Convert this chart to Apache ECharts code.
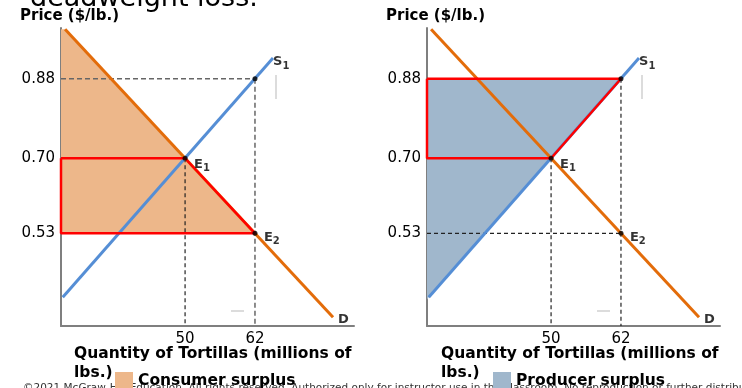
<!DOCTYPE html>
<html><head><meta charset="utf-8">
<script src="https://cdn.jsdelivr.net/npm/echarts@6/dist/echarts.min.js"></script>
<style>html,body{margin:0;padding:0;background:#fff}#c{width:742px;height:388px}</style>
</head><body><div id="c"></div>
<script>
// ---- data ----
const quantityTicks = [50, 62];
const priceTicks = [0.53, 0.70, 0.88];
const demandLine = [[29.4, 0.992], [75.4, 0.340]];
const supplyLine = [[29.0, 0.385], [65.1, 0.927]];
const pointE1 = [50, 0.70];
const pointE2 = [62, 0.53];
const pointS88 = [62, 0.88];
const qMin = 28.7, qMax = 79, pMin = 0.32, pMax = 0.995;
const consumerSurplus = [[qMin, 0.992], [29.4, 0.992], [62, 0.53], [qMin, 0.53]];
const producerSurplus = [[qMin, 0.88], [62, 0.88], [29.0, 0.385], [qMin, 0.38]];
const outlineLeft = [[qMin, 0.70], [50, 0.70], [62, 0.53], [qMin, 0.53], [qMin, 0.70]];
const outlineRight = [[qMin, 0.88], [62, 0.88], [50, 0.70], [qMin, 0.70], [qMin, 0.88]];

const FONT = 'DejaVu Sans';
const ORANGE = '#E36C0A', BLUE = '#558ED5', RED = '#FF0000';
const CS_COLOR = '#EDB78A', PS_COLOR = '#A0B7CC';

const chart = echarts.init(document.getElementById('c'), null, {renderer: 'canvas'});

function axesFor(i) {
  return {
    x: {
      type: 'value', gridIndex: i, min: qMin, max: qMax,
      axisLine: {show: true, lineStyle: {color: '#7f7f7f', width: 2}},
      axisTick: {show: false}, splitLine: {show: false},
      axisLabel: {customValues: quantityTicks, color: '#000', fontSize: 15, fontFamily: FONT, margin: 6}
    },
    y: {
      type: 'value', gridIndex: i, min: pMin, max: pMax,
      axisLine: {show: true, lineStyle: {color: '#7f7f7f', width: 2}},
      axisTick: {show: false}, splitLine: {show: false},
      axisLabel: {customValues: priceTicks, color: '#000', fontSize: 15, fontFamily: FONT, margin: 6,
        formatter: v => v.toFixed(2)},
      name: 'Price ($/lb.)', nameLocation: 'end', nameGap: 4,
      nameTextStyle: {color: '#000', fontSize: 15, fontWeight: 'bold', fontFamily: FONT, align: 'left', padding: [0, 0, 0, -41]}
    }
  };
}
const a0 = axesFor(0), a1 = axesFor(1);

function poly(name, pts, color, gi) {
  return {
    type: 'custom', name, xAxisIndex: gi, yAxisIndex: gi, data: pts, z: 1, silent: true,
    itemStyle: {color},
    renderItem: (params, api) => {
      if (params.dataIndex !== 0) return null;
      return {type: 'polygon', shape: {points: pts.map(p => api.coord(p))}, style: {fill: color}};
    }
  };
}
function line(pts, color, width, gi, type, z) {
  return {type: 'line', xAxisIndex: gi, yAxisIndex: gi, data: pts, symbol: 'none',
    lineStyle: {color, width, type: type || 'solid', cap: 'butt'}, z: z || 3, silent: true};
}
const rich = {
  m: {fontSize: 13, fontWeight: 'bold', fontFamily: FONT, color: '#000'},
  s: {fontSize: 10, fontWeight: 'bold', fontFamily: FONT, color: '#000', padding: [8, 0, 0, 0]}
};
function labels(gi) {
  return {
    type: 'scatter', xAxisIndex: gi, yAxisIndex: gi, symbolSize: 0, z: 12, silent: true,
    label: {show: true, position: 'right', rich},
    data: [
      {value: supplyLine[1], label: {formatter: '{m|S}{s|1}', distance: 0, offset: [0, 4]}},
      {value: pointE1, label: {formatter: '{m|E}{s|1}', distance: 9, offset: [0, 6]}},
      {value: pointE2, label: {formatter: '{m|E}{s|2}', distance: 9, offset: [0, 4]}},
      {value: demandLine[1], label: {formatter: '{m|D}', distance: 5, offset: [0, 2]}}
    ]
  };
}
function dots(gi) {
  return {type: 'scatter', xAxisIndex: gi, yAxisIndex: gi, symbolSize: 5, z: 11, silent: true,
    itemStyle: {color: '#000'}, data: [pointS88, pointE1, pointE2]};
}
const gray = '#666', blk = '#222';
const series = [
  poly('Consumer surplus', consumerSurplus, CS_COLOR, 0),
  line([[qMin, 0.88], pointS88], gray, 1.5, 0, [5, 3], 2),
  line([pointS88, [62, pMin]], gray, 1.5, 0, [5, 3], 2),
  line([pointE1, [50, pMin]], blk, 1.2, 0, [4, 3], 2),
  line([[qMin, 0.53], pointE2], gray, 1.5, 0, [5, 3], 2),
  line(demandLine, ORANGE, 3, 0, 'solid', 4),
  line(supplyLine, BLUE, 3, 0, 'solid', 4),
  line(outlineLeft, RED, 2.5, 0, 'solid', 6),
  dots(0), labels(0),

  poly('Producer surplus', producerSurplus, PS_COLOR, 1),
  line([[qMin, 0.88], pointS88], gray, 1.5, 1, [5, 3], 2),
  line([pointS88, [62, pMin]], blk, 1.2, 1, [4, 3], 2),
  line([pointE1, [50, pMin]], blk, 1.2, 1, [4, 3], 2),
  line([[qMin, 0.53], pointE2], blk, 1.2, 1, [4, 3], 2),
  line(demandLine, ORANGE, 3, 1, 'solid', 4),
  line(supplyLine, BLUE, 3, 1, 'solid', 4),
  line(outlineRight, RED, 2.5, 1, 'solid', 6),
  dots(1), labels(1)
];

const legendText = {color: '#000', fontSize: 15.5, fontWeight: 'bold', fontFamily: FONT};
const titleStyle = {fill: '#000', fontSize: 15.5, fontWeight: 'bold', fontFamily: FONT, lineHeight: 19};
const copyright = '©2021 McGraw-Hill Education. All rights reserved. Authorized only for instructor use in the classroom. No reproduction or further distribution permitted without the prior written consent of McGraw-Hill Education.';

chart.setOption({
  animation: false,
  backgroundColor: '#fff',
  grid: [
    {left: 61, top: 28, width: 293, height: 298},
    {left: 427, top: 28, width: 293, height: 298}
  ],
  xAxis: [a0.x, a1.x],
  yAxis: [a0.y, a1.y],
  legend: [
    {data: ['Consumer surplus'], left: 115, top: 372, padding: 0, icon: 'rect', itemWidth: 18, itemHeight: 18, itemGap: 0, textStyle: legendText, selectedMode: false},
    {data: ['Producer surplus'], left: 493, top: 372, padding: 0, icon: 'rect', itemWidth: 18, itemHeight: 18, itemGap: 0, textStyle: legendText, selectedMode: false}
  ],
  graphic: [
    {type: 'text', left: 30, top: -15, z: -1, style: {text: 'deadweight loss.', fill: '#000', fontSize: 27, fontFamily: FONT}},
    {type: 'text', left: 74, top: 344, style: Object.assign({text: 'Quantity of Tortillas (millions of\nlbs.)'}, titleStyle)},
    {type: 'text', left: 441, top: 344, style: Object.assign({text: 'Quantity of Tortillas (millions of\nlbs.)'}, titleStyle)},
    {type: 'text', left: 23, top: 383, z: -1, style: {text: copyright, fill: '#333', fontSize: 10.5, fontFamily: FONT}},
    {type: 'line', shape: {x1: 276, y1: 75, x2: 276, y2: 99}, style: {stroke: '#dcdcdc', lineWidth: 2}},
    {type: 'line', shape: {x1: 231, y1: 311, x2: 244, y2: 311}, style: {stroke: '#dcdcdc', lineWidth: 2}},
    {type: 'line', shape: {x1: 642, y1: 75, x2: 642, y2: 99}, style: {stroke: '#dcdcdc', lineWidth: 2}},
    {type: 'line', shape: {x1: 597, y1: 311, x2: 610, y2: 311}, style: {stroke: '#dcdcdc', lineWidth: 2}}
  ],
  series
});
</script></body></html>
